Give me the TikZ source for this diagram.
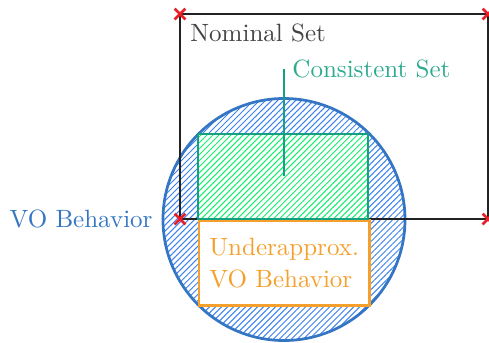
\documentclass[tikz,border=0pt]{standalone}
\usetikzlibrary{patterns.meta,shapes.misc}
\definecolor{voblue}{RGB}{52,118,196}
\definecolor{hatchblue}{RGB}{60,130,240}
\definecolor{teal2}{RGB}{22,160,130}
\definecolor{hatchgreen}{RGB}{20,240,110}
\definecolor{orange2}{RGB}{245,160,45}
\definecolor{xred}{RGB}{232,30,40}
\definecolor{ink}{RGB}{34,34,34}
\tikzset{
  xmark/.style={cross out, draw=xred, line width=1.1pt, minimum size=3.2pt, inner sep=0pt},
  lbl/.style={inner sep=0pt, font=\fontsize{10}{12.8}\selectfont},
  hatch/.style={pattern={Lines[angle=45,distance=1.7pt,line width=0.4pt]}},
}
\begin{document}
\begin{tikzpicture}[x=0.4pt,y=-0.4pt]
\useasboundingbox (0,0) rectangle (489,342);
% circle (VO behavior)
\coordinate (cc) at (284,219.5);
\draw[voblue, line width=1.1pt, hatch, pattern color=hatchblue] (cc) circle[radius=121];
% nominal set
\coordinate (ntl) at (180,14);
\coordinate (nbr) at (488,219);
\draw[ink, line width=1.1pt] (ntl) rectangle (nbr);
% underapprox box
\node[draw=orange2, line width=1pt, fill=white, minimum width=68pt, minimum height=34pt, anchor=north west, inner sep=0pt, align=left, text=orange2, font=\fontsize{10}{12.8}\selectfont] (ua) at (198,219) {Underapprox.\\VO Behavior};
% consistent set
\coordinate (gtl) at (198,134);
\coordinate (gbr) at (368,219);
\fill[white] (gtl) rectangle (gbr);
\draw[teal2, line width=1.1pt, hatch, pattern color=hatchgreen] (gtl) rectangle (gbr);
\coordinate (ltop) at (284,69);
\coordinate (lbot) at (284,176);
\draw[teal2, line width=1.1pt] (ltop) -- (lbot);
% labels
\node[lbl, anchor=base west, text=ink!85] (nom) at (190,41) {Nominal Set};
\node[lbl, anchor=base west, text=teal2!90!white] (cons) at (292,77) {Consistent Set};
\node[lbl, anchor=base east, text=voblue] (vo) at (153,227) {VO Behavior};
% crosses
\node[xmark] (x1) at (180,14) {};
\node[xmark] (x2) at (180,219) {};
\node[xmark] (x3) at (488,14) {};
\node[xmark] (x4) at (488,219) {};
\end{tikzpicture}
\end{document}
